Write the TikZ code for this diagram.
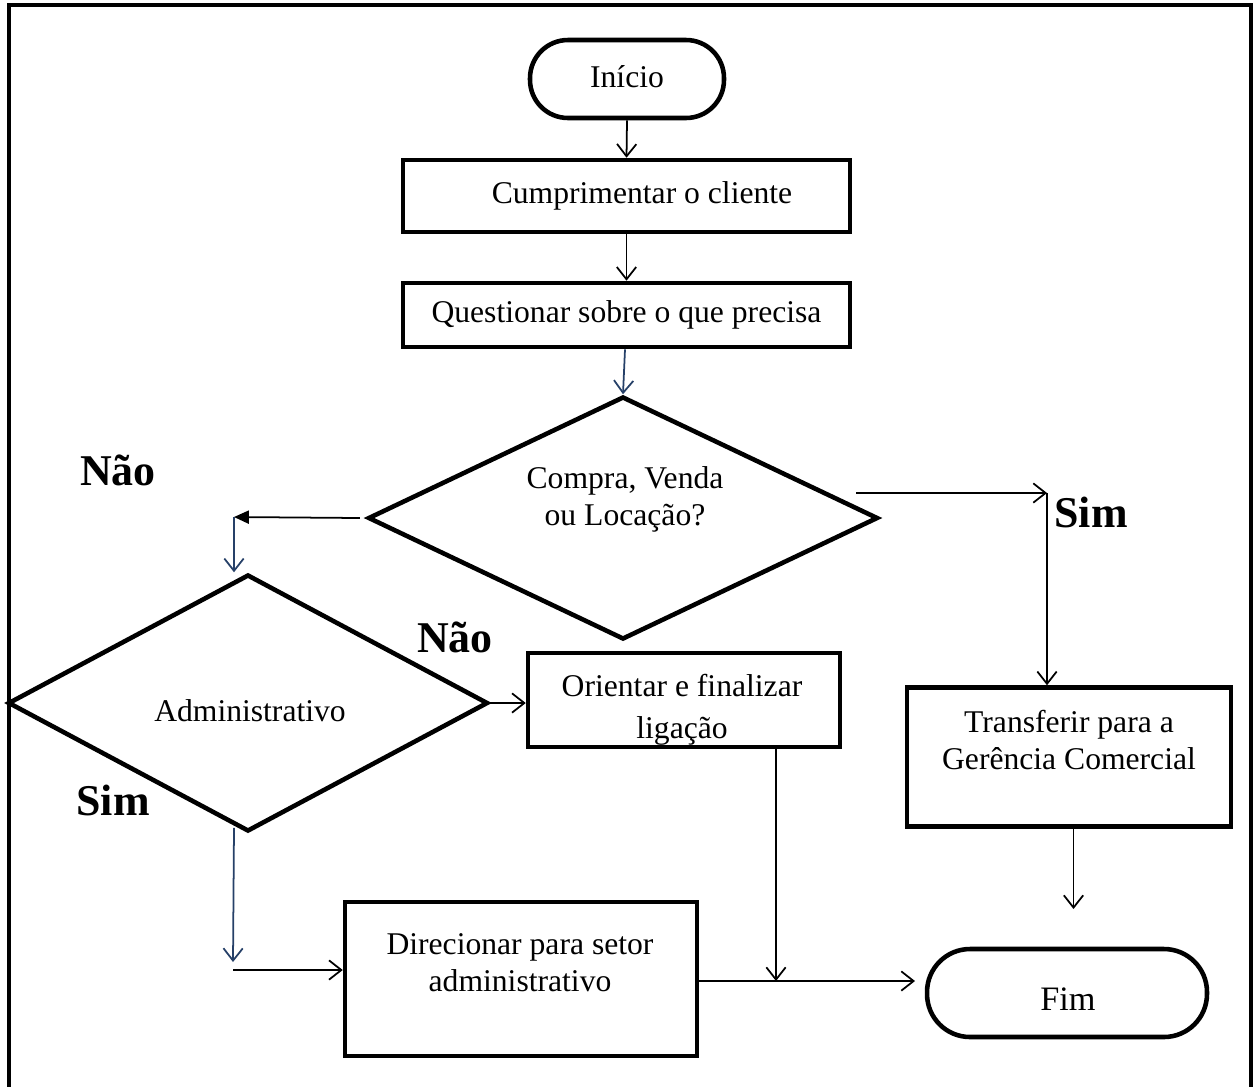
\documentclass[tikz,border=0pt]{standalone}
\usepackage{fontspec}
\setmainfont{Liberation Serif}
\usetikzlibrary{shapes.geometric,arrows.meta,calc}
\definecolor{navy}{RGB}{38,64,104}
\tikzset{
  box/.style={draw,line width=2.6pt,rectangle,inner sep=0pt},
  terminal/.style={box,rounded corners=0.76cm},
  decision/.style={draw,line width=2.6pt,diamond,inner sep=0pt},
  txt/.style={font=\fontsize{18}{21}\selectfont,align=center,inner sep=0pt},
  tag/.style={font=\fontsize{25}{28}\selectfont\bfseries,inner sep=0pt},
  flow/.style={line width=1pt,-{Straight Barb[length=7pt,width=11pt,line width=1pt]}},
  bluflow/.style={flow,draw=navy},
  solid tip/.style={line width=1pt,-{Triangle[length=8.5pt,width=7.5pt]}},
}
\begin{document}
\begin{tikzpicture}[x=0.02cm,y=-0.02cm]
\useasboundingbox (0,0) rectangle (1256,1086);
% outer frame (open at the bottom)
\draw[line width=1.8pt] (9,1090) -- (9,5) -- (1251,5) -- (1251,1090);

% nodes
\node[terminal,minimum width=3.88cm,minimum height=1.56cm] (inicio) at (627,79) {};
\node[box,minimum width=8.94cm,minimum height=1.44cm] (cump) at (626.5,196) {};
\node[box,minimum width=8.94cm,minimum height=1.28cm] (quest) at (626.5,315) {};
\node[decision,minimum width=10.2cm,minimum height=4.86cm] (d1) at (623,518) {};
\node[decision,minimum width=9.6cm,minimum height=5.14cm] (d2) at (248,703) {};
\node[box,minimum width=6.24cm,minimum height=1.88cm] (orient) at (684,700) {};
\node[box,minimum width=6.48cm,minimum height=2.78cm] (trans) at (1069,757) {};
\node[box,minimum width=7.04cm,minimum height=3.08cm] (direc) at (521,979) {};
\node[terminal,rounded corners=0.86cm,minimum width=5.6cm,minimum height=1.76cm] (fim) at (1067,993) {};

% texts
\node[txt] (tinicio) at (627,77) {Início};
\node[txt] (tcump) at (642,196) {Cumprimentar o cliente};
\node[txt] (tquest) at (quest) {Questionar sobre o que precisa};
\node[txt] (td1) at (625,499) {Compra, Venda\\ou Locação?};
\node[txt] (td2) at (250,711) {Administrativo};
\node[txt] (torient) at (682,710) {Orientar e finalizar\\[3pt]ligação};
\node[txt] (ttrans) at (1069,740) {Transferir para a\\Gerência Comercial};
\node[txt] (tdirec) at (520,963) {Direcionar para setor\\administrativo};
\node[txt,font=\fontsize{19.5}{22}\selectfont] (tfim) at (1068,999) {Fim};

% branch labels
\node[tag] (nao1) at (118,470) {Não};
\node[tag] (nao2) at (455,637) {Não};
\node[tag] (sim1) at (1091,512) {Sim};
\node[tag] (sim2) at (113,800) {Sim};

% helper points
\coordinate (lbend) at (234,517);
\coordinate (rstart) at (856,493);
\coordinate (rbend) at (1047,493);
\coordinate (lfoot) at (233,962);
\coordinate (lin) at (233,970);
\coordinate (ofoot) at (776,981);
\coordinate (fimin) at (915,981);
\coordinate (tfoot) at (1073.5,909);

% connectors
\draw[flow] (inicio.south) -- (cump.north);
\draw[flow] (cump.south) -- (quest.north);
\draw[bluflow] ([xshift=-1.5*0.02cm]quest.south) -- (d1.north);
\draw[solid tip] ([xshift=-6*0.02cm]d1.west) -- (lbend);
\draw[bluflow] (lbend) -- (d2.north -| lbend);
\draw[flow] (rstart) -- (rbend);
\draw[flow] (rbend) -- (trans.north -| rbend);
\draw[flow] (d2.east) -- (orient.west |- d2.east);
\draw[flow] (orient.south -| ofoot) -- (ofoot);
\draw[flow] (direc.east |- fimin) -- (fimin);
\draw[flow] (trans.south -| tfoot) -- (tfoot);
\draw[bluflow] ($(d2.south)+(-14,-6)$) -- (lfoot);
\draw[flow] (lin) -- (direc.west |- lin);
\end{tikzpicture}
\end{document}
